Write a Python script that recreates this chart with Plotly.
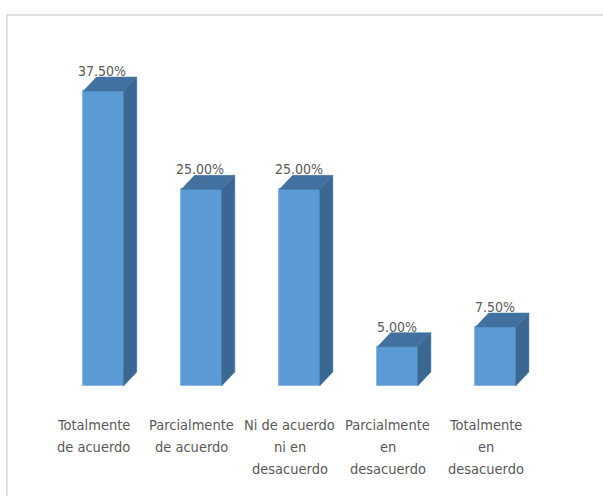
import plotly.graph_objects as go

categories = ["Totalmente<br>de acuerdo", "Parcialmente<br>de acuerdo",
              "Ni de acuerdo<br>ni en<br>desacuerdo", "Parcialmente<br>en<br>desacuerdo",
              "Totalmente<br>en<br>desacuerdo"]
values = [37.5, 25.0, 25.0, 5.0, 7.5]
value_labels = ["37.50%", "25.00%", "25.00%", "5.00%", "7.50%"]

FRONT = "#5B9BD5"
SIDE = "#3B6893"
TOP = "#42719F"
EDGE = "#8DB8E2"
TXT = "#595959"
FONT = "DejaVu Sans Condensed, sans-serif"

W = 0.41      # bar front width (x units)
DX = 0.135    # depth in x units
DY = 1.78     # depth in y units

xs = list(range(len(values)))
fig = go.Figure()
fig.add_trace(go.Bar(x=xs, y=values, width=W, marker=dict(color=FRONT, line=dict(color=EDGE, width=1)),
                     hoverinfo="skip", showlegend=False))

for i, v in zip(xs, values):
    l, r = i - W / 2, i + W / 2
    # side face
    fig.add_trace(go.Scatter(x=[r, r + DX, r + DX, r, r], y=[0, DY, v + DY, v, 0],
                             fill="toself", fillcolor=SIDE, mode="lines",
                             line=dict(color=SIDE, width=0.5), hoverinfo="skip", showlegend=False))
    # top face
    fig.add_trace(go.Scatter(x=[l, l + DX, r + DX, r, l], y=[v, v + DY, v + DY, v, v],
                             fill="toself", fillcolor=TOP, mode="lines",
                             line=dict(color=TOP, width=0.5), hoverinfo="skip", showlegend=False))

annotations = []
for i, v, t in zip(xs, values, value_labels):
    annotations.append(dict(x=i, y=v + DY, text=t, showarrow=False, yanchor="bottom",
                            xanchor="center", yshift=-4, xshift=-1,
                            font=dict(family=FONT, size=14, color=TXT)))
for i, c in zip(xs, categories):
    for k, line in enumerate(c.split("<br>")):
        annotations.append(dict(x=i, y=0, text=line, showarrow=False, yanchor="middle",
                                xanchor="center", yshift=-39 - 22 * k, xshift=-10,
                                font=dict(family=FONT, size=14.5, color=TXT)))

fig.update_layout(
    width=603, height=496,
    margin=dict(l=25, r=29, t=32, b=110),
    paper_bgcolor="white", plot_bgcolor="white",
    xaxis=dict(range=[-0.8, 4.8], visible=False, fixedrange=True),
    yaxis=dict(range=[0, 45], visible=False, fixedrange=True),
    annotations=annotations,
    shapes=[dict(type="rect", xref="paper", yref="paper", x0=-0.033, x1=1.2, y0=-0.6,
                 y1=1.048, line=dict(color="#D6D6D6", width=1.5), fillcolor="rgba(0,0,0,0)",
                 layer="below")],
    bargap=0,
)

fig.write_html("out.html")
